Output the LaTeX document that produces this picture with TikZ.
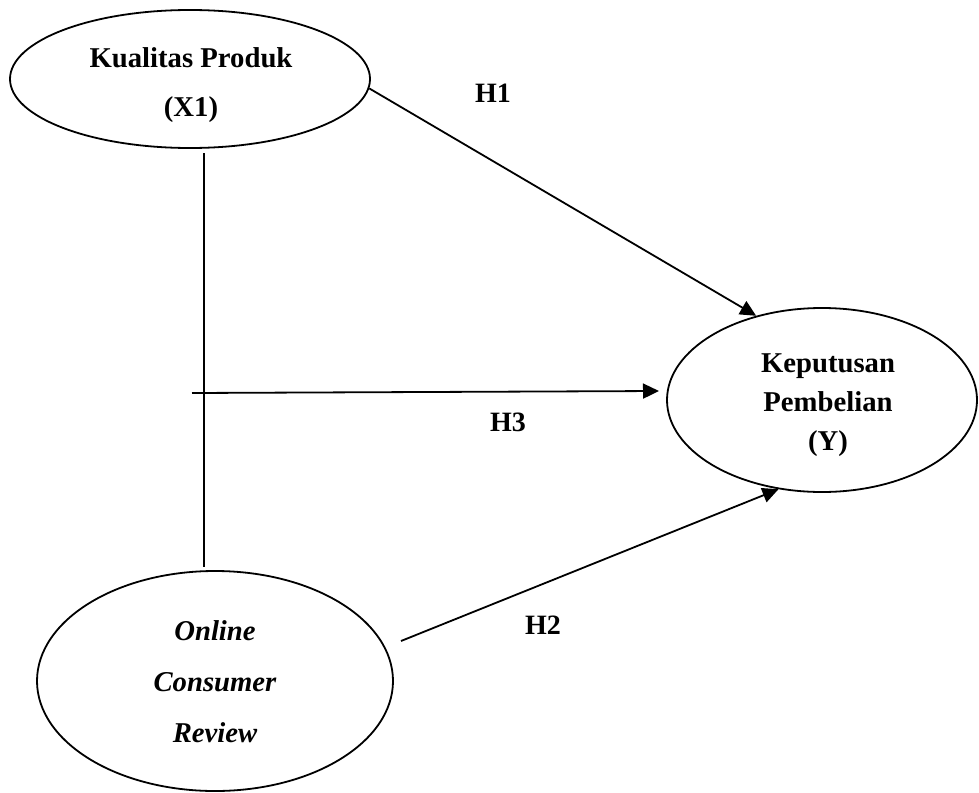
\documentclass[tikz,border=0pt]{standalone}
\usepackage{fontspec}
\setmainfont{Liberation Serif}
\usetikzlibrary{shapes.geometric,arrows.meta}
\tikzset{
  latent/.style={ellipse, draw, line width=1.8pt, inner sep=0pt},
  ltext/.style={inner sep=0pt, align=center},
  conn/.style={line width=1.8pt},
  arr/.style={conn, -{Triangle[length=16pt,width=15pt]}},
  hlabel/.style={font=\fontsize{28}{34}\selectfont\bfseries, inner sep=0pt}
}
\begin{document}
\begin{tikzpicture}[x=1pt,y=-1pt]
\useasboundingbox (0,0) rectangle (979,792);
\node[latent, minimum width=360pt, minimum height=138pt] (x1) at (190,79) {};
\node[ltext, font=\fontsize{28.7}{49}\selectfont\bfseries] (x1t) at (191,85)
  {Kualitas Produk\\(X1)};
\node[latent, minimum width=310pt, minimum height=184pt] (y) at (822,400) {};
\node[ltext, font=\fontsize{28.7}{39}\selectfont\bfseries] (yt) at (828,405)
  {Keputusan\\Pembelian\\(Y)};
\node[latent, minimum width=356pt, minimum height=220pt] (orc) at (215,681) {};
\node[ltext, font=\fontsize{28.7}{51}\selectfont\bfseries\itshape] (orct) at (215,682)
  {Online\\Consumer\\Review};
\coordinate (v1) at (204,153);
\coordinate (v2) at (204,567);
\coordinate (h3s) at (192,393);
\coordinate (h3e) at (659,391);
\coordinate (h2s) at (401,641);
\draw[conn] (v1) -- (v2);
\draw[arr] (x1.-3) -- (y.128);
\draw[arr] (h3s) -- (h3e);
\draw[arr] (h2s) -- (y.244);
\node[hlabel] (h1) at (493,93) {H1};
\node[hlabel] (h3) at (508,422) {H3};
\node[hlabel] (h2) at (543,625) {H2};
\end{tikzpicture}
\end{document}
